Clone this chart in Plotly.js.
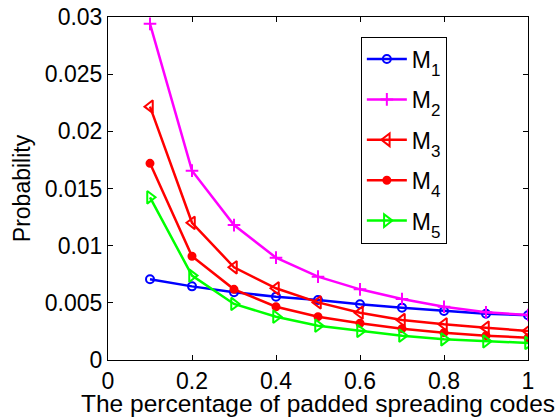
<!DOCTYPE html>
<html>
<head>
<meta charset="utf-8">
<script src="https://cdn.plot.ly/plotly-3.0.1.min.js"></script>
<style>html,body{margin:0;padding:0;background:#fff;}#chart{width:559px;height:417px;}</style>
</head>
<body>
<div id="chart"></div>
<script>
const xValues = [0.1, 0.2, 0.3, 0.4, 0.5, 0.6, 0.7, 0.8, 0.9, 1.0];
const m1 = [0.00706, 0.00644, 0.00592, 0.00554, 0.00525, 0.00487, 0.00458, 0.00429, 0.00405, 0.00391];
const m2 = [0.0294, 0.01656, 0.0118, 0.00895, 0.00729, 0.00618, 0.00534, 0.00466, 0.00417, 0.00394];
const m3 = [0.02216, 0.0120, 0.00811, 0.00627, 0.00504, 0.00414, 0.0035, 0.00312, 0.00283, 0.00254];
const m4 = [0.0172, 0.00907, 0.00618, 0.00466, 0.00379, 0.00321, 0.00274, 0.00239, 0.00213, 0.00195];
const m5 = [0.01423, 0.00738, 0.0049, 0.00379, 0.003, 0.00254, 0.00213, 0.00181, 0.00163, 0.00149];
const seriesSubs = ['1', '2', '3', '4', '5'];
const xTicks = [0, 0.2, 0.4, 0.6, 0.8, 1];
const yTicks = [0, 0.005, 0.01, 0.015, 0.02, 0.025, 0.03];
const yTickText = ['0', '0.005', '0.01', '0.015', '0.02', '0.025', '0.03'];

const styles = [
  {color: '#0000ff', symbol: 'circle-open', size: 8},
  {color: '#ff00ff', symbol: 'cross-thin-open', size: 9},
  {color: '#ff0000', symbol: 'triangle-left-open', size: 11},
  {color: '#ff0000', symbol: 'circle', size: 7},
  {color: '#00ff00', symbol: 'triangle-right-open', size: 11}
];
const series = [m1, m2, m3, m4, m5];
const traces = series.map((ys, i) => ({
  x: xValues, y: ys, type: 'scatter', mode: 'lines+markers',
  name: 'M<span style="font-size:17px;baseline-shift:-8px">' + seriesSubs[i] + '</span>',
  legendgroup: 'g' + i,
  line: {color: styles[i].color, width: 2.5},
  marker: {symbol: styles[i].symbol, size: styles[i].size, color: styles[i].color,
           line: {color: styles[i].color, width: 2}}
}));

const font = {family: 'Liberation Sans, Arial, sans-serif', color: '#000'};
const layout = {
  width: 559, height: 417,
  margin: {l: 108, r: 31, t: 17, b: 57, pad: 0},
  paper_bgcolor: '#fff', plot_bgcolor: '#fff',
  font: Object.assign({size: 22}, font),
  showlegend: true,
  legend: {
    x: 0.602, y: 0.943, xanchor: 'left', yanchor: 'top',
    bgcolor: '#fff', bordercolor: '#000', borderwidth: 1,
    tracegroupgap: 7.5, itemwidth: 40,
    font: Object.assign({size: 23}, font)
  },
  xaxis: {
    range: [0, 1], tickvals: xTicks, ticktext: xTicks.map(String),
    ticks: 'inside', ticklen: 5, tickcolor: '#000', mirror: 'ticks',
    showline: true, linecolor: '#000', linewidth: 1, showgrid: false, zeroline: false,
    tickfont: Object.assign({size: 23}, font),
    title: {text: 'The percentage of padded spreading codes', font: Object.assign({size: 24.5}, font), standoff: 0}
  },
  yaxis: {
    range: [0, 0.03], tickvals: yTicks, ticktext: yTickText,
    ticks: 'inside', ticklen: 5, tickcolor: '#000', mirror: 'ticks',
    showline: true, linecolor: '#000', linewidth: 1, showgrid: false, zeroline: false,
    tickfont: Object.assign({size: 23}, font),
    title: {text: 'Probability', font: Object.assign({size: 23}, font), standoff: 7}
  }
};
Plotly.newPlot('chart', traces, layout, {displayModeBar: false, staticPlot: true});
</script>
</body>
</html>
